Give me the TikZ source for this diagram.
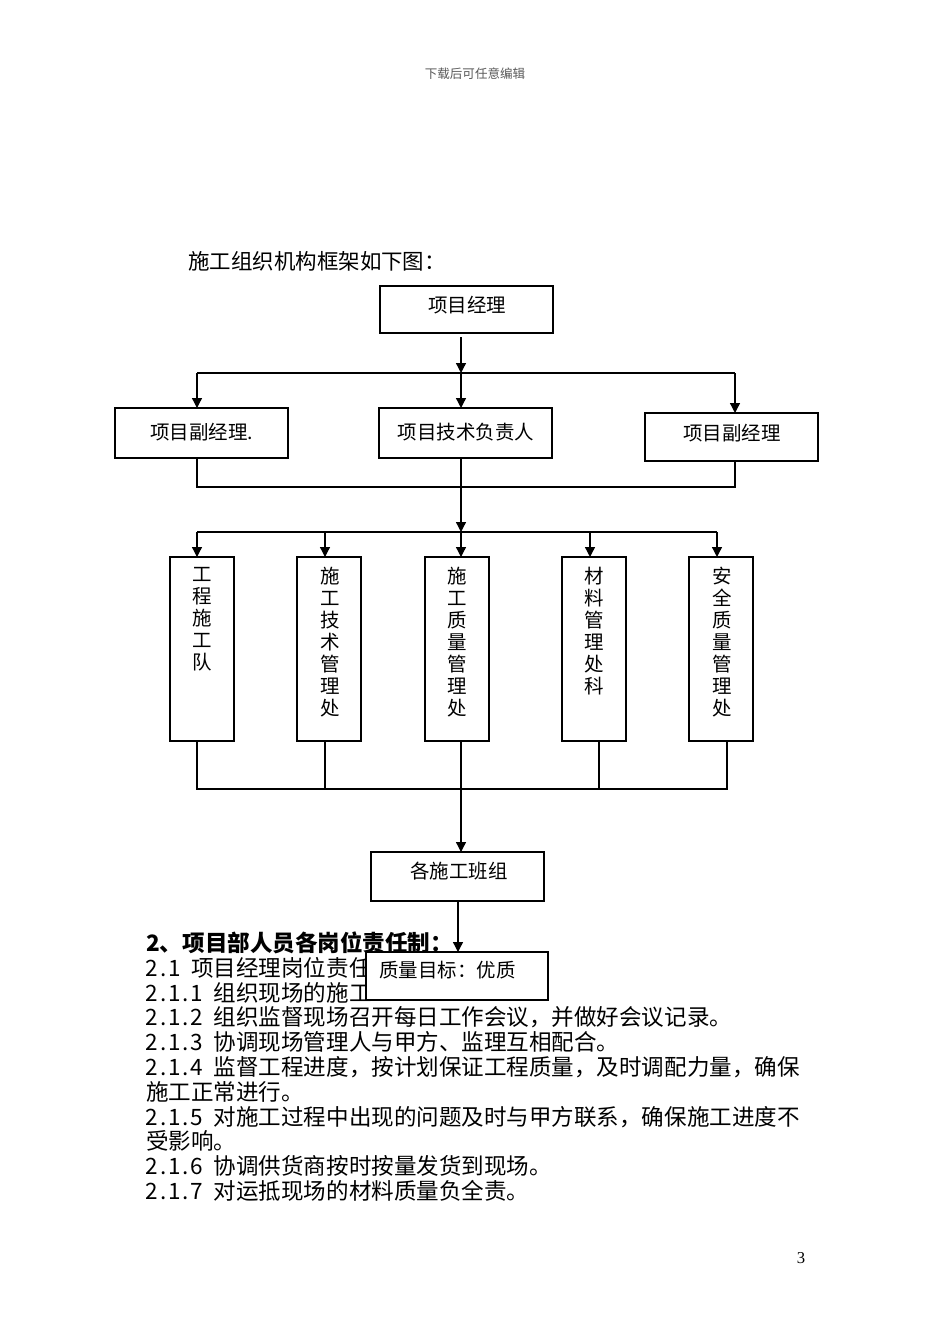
\documentclass[tikz,border=0pt]{standalone}
\usepackage{fontspec}
\setmainfont{Noto Sans CJK SC}
\newfontfamily\latinserif{Liberation Serif}
\usetikzlibrary{arrows.meta}
\makeatletter
\newcommand\halfw[1]{\@tfor\hw@c:=#1\do{\makebox[0.5em]{\hw@c}}}
\makeatother
\begin{document}
\begin{tikzpicture}[x=0.75pt,y=-0.75pt,
  box/.style={draw, line width=1pt, inner sep=0pt, outer sep=0pt, fill=white},
  ln/.style={line width=1pt},
  arr/.style={line width=1pt, -{Triangle[length=7.5pt,width=7.5pt]}},
  boxtxt/.style={inner sep=0pt, font=\fontsize{14.6}{16.5}\selectfont},
  vtxt/.style={inner sep=0pt, anchor=north, align=center, font=\fontsize{14.6}{16.5}\selectfont},
  body/.style={inner sep=0pt, anchor=base west, font=\fontsize{16.9}{20}\selectfont}]
\useasboundingbox (0,0) rectangle (950,1344);
\fill[white] (0,0) rectangle (950,1344);

% header, title, page number
\node[inner sep=0pt, text=black!65, font=\fontsize{9.4}{11}\selectfont] (hdr) at (475,74) {下载后可任意编辑};
\node[inner sep=0pt, anchor=west, font=\fontsize{16.1}{19}\selectfont] (ttl) at (188,261) {施工组织机构框架如下图：};
\node[inner sep=0pt, font=\latinserif\fontsize{12.5}{14}\selectfont] (pg) at (801,1258) {3};

% level boxes
\node[box, minimum width=129.75pt, minimum height=35.25pt] (pm) at (466.5,309.5) {};
\node[boxtxt] (pmt) at (467,305) {项目经理};
\node[box, minimum width=129.75pt, minimum height=37.5pt] (vp1) at (201.5,433) {};
\node[boxtxt, anchor=west] (vp1t) at (150,432) {项目副经理.};
\node[box, minimum width=129.75pt, minimum height=37.5pt] (tech) at (465.5,433) {};
\node[boxtxt] (techt) at (466,432) {项目技术负责人};
\node[box, minimum width=129.75pt, minimum height=36pt] (vp2) at (731.5,437) {};
\node[boxtxt] (vp2t) at (732,433) {项目副经理};

% departments
\node[box, minimum width=48pt, minimum height=138pt] (d1) at (202,649) {};
\node[box, minimum width=48pt, minimum height=138pt] (d2) at (329,649) {};
\node[box, minimum width=48pt, minimum height=138pt] (d3) at (457,649) {};
\node[box, minimum width=48pt, minimum height=138pt] (d4) at (594,649) {};
\node[box, minimum width=48pt, minimum height=138pt] (d5) at (721,649) {};
\node[vtxt] (d1t) at (202,567) {工\\程\\施\\工\\队};
\node[vtxt] (d2t) at (330,567) {施\\工\\技\\术\\管\\理\\处};
\node[vtxt] (d3t) at (457.5,567) {施\\工\\质\\量\\管\\理\\处};
\node[vtxt] (d4t) at (594,567) {材\\料\\管\\理\\处\\科};
\node[vtxt] (d5t) at (722,567) {安\\全\\质\\量\\管\\理\\处};

% teams
\node[box, minimum width=129.75pt, minimum height=36.75pt] (team) at (457.5,876.5) {};
\node[boxtxt] (teamt) at (459,871) {各施工班组};

% connectors level 1
\coordinate (b1l) at (197,373);
\coordinate (b1m) at (461,373);
\coordinate (b1r) at (735,373);
\draw[ln] (b1l) -- (b1r);
\draw[arr, shorten <=3pt] (pm.south -| b1m) -- (b1m);
\draw[arr] (b1l) -- (b1l |- vp1.north);
\draw[arr] (b1m) -- (b1m |- tech.north);
\draw[arr] (b1r) -- (b1r |- vp2.north);

% bus 2
\coordinate (b2l) at (197,487);
\coordinate (b2r) at (735,487);
\draw[ln] (b2l |- vp1.south) -- (b2l) -- (b2r) -- (b2r |- vp2.south);

% bus 3
\coordinate (b3a) at (197,532);
\coordinate (b3b) at (325,532);
\coordinate (b3c) at (461,532);
\coordinate (b3d) at (590,532);
\coordinate (b3e) at (717,532);
\draw[arr] (b3c |- tech.south) -- (b3c);
\draw[ln] (b3a) -- (b3e);
\draw[arr] (b3a) -- (b3a |- d1.north);
\draw[arr] (b3b) -- (b3b |- d2.north);
\draw[arr] (b3c) -- (b3c |- d3.north);
\draw[arr] (b3d) -- (b3d |- d4.north);
\draw[arr] (b3e) -- (b3e |- d5.north);

% bus 4
\coordinate (c4a) at (197,789);
\coordinate (c4b) at (325,789);
\coordinate (c4c) at (461,789);
\coordinate (c4d) at (599,789);
\coordinate (c4e) at (727,789);
\draw[ln] (c4a |- d1.south) -- (c4a) -- (c4e) -- (c4e |- d5.south);
\draw[ln] (c4b |- d2.south) -- (c4b);
\draw[ln] (c4c |- d3.south) -- (c4c);
\draw[ln] (c4d |- d4.south) -- (c4d);
\draw[arr] (c4c) -- (c4c |- team.north);

% body text
\node[body, font=\fontsize{16.9}{20}\selectfont\bfseries] (l0) at (146,951.5) {2、项目部人员各岗位责任制：};
\node[body] (l1) at (146,976.3) {\halfw{2.1}\hspace{0.5em}项目经理岗位责任};
\node[body] (l2) at (146,1001.1) {\halfw{2.1.1}\hspace{0.5em}组织现场的施工};
\node[body] (l3) at (146,1025.9) {\halfw{2.1.2}\hspace{0.5em}组织监督现场召开每日工作会议，并做好会议记录。};
\node[body] (l4) at (146,1050.7) {\halfw{2.1.3}\hspace{0.5em}协调现场管理人与甲方、监理互相配合。};
\node[body] (l5) at (146,1075.5) {\halfw{2.1.4}\hspace{0.5em}监督工程进度，按计划保证工程质量，及时调配力量，确保};
\node[body] (l6) at (146,1100.3) {施工正常进行。};
\node[body] (l7) at (146,1125.1) {\halfw{2.1.5}\hspace{0.5em}对施工过程中出现的问题及时与甲方联系，确保施工进度不};
\node[body] (l8) at (146,1149.9) {受影响。};
\node[body] (l9) at (146,1174.7) {\halfw{2.1.6}\hspace{0.5em}协调供货商按时按量发货到现场。};
\node[body] (l10) at (146,1199.5) {\halfw{2.1.7}\hspace{0.5em}对运抵现场的材料质量负全责。};

% quality goal box (covers part of text)
\node[box, minimum width=136.5pt, minimum height=36pt] (goal) at (457,976) {};
\node[boxtxt, anchor=west] (goalt) at (379,970) {质量目标：优质};
\coordinate (tg) at (458,901);
\draw[arr] (team.south -| tg) -- (tg |- goal.north);
\end{tikzpicture}
\end{document}
